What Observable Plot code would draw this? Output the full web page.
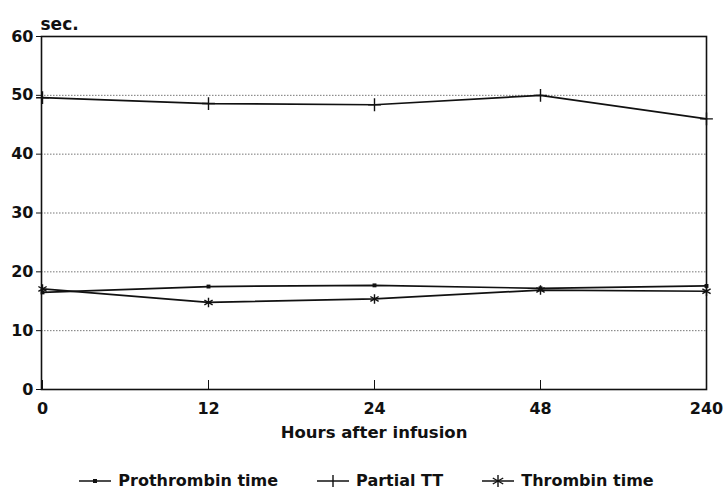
<!DOCTYPE html>
<html>
<head>
<meta charset="utf-8">
<script src="https://cdn.jsdelivr.net/npm/d3@7"></script>
<script src="https://cdn.jsdelivr.net/npm/@observablehq/plot@0.6"></script>
<style>
  body { margin: 0; background: #fff; font-family: "DejaVu Sans", sans-serif; overflow: hidden; position: relative; width: 724px; height: 490px; }
  #legend { position: absolute; left: 0; top: 472px; width: 724px; display: flex; justify-content: center; gap: 38px; font-weight: bold; font-size: 16px; line-height: 18px; color: #111; padding-left: 4px; }
  #legend span { display: inline-flex; align-items: center; gap: 6px; }
</style>
</head>
<body>
<div id="chart"></div>
<div id="legend"></div>
<script>
const hours = ["0", "12", "24", "48", "240"];
const prothrombin = [16.5, 17.5, 17.7, 17.2, 17.6];
const partialTT = [49.6, 48.6, 48.4, 50.0, 46.0];
const thrombin = [17.1, 14.8, 15.4, 16.9, 16.7];
const seriesNames = ["Prothrombin time", "Partial TT", "Thrombin time"];
const seriesSymbols = ["square", "plus", "asterisk"];
const yTicks = [0, 10, 20, 30, 40, 50, 60];
const gridTicks = [10, 20, 30, 40, 50];
const yLabel = "sec.";
const xLabel = "Hours after infusion";

const valuesBySeries = [prothrombin, partialTT, thrombin];
const rows = [];
seriesNames.forEach((name, i) => {
  hours.forEach((h, j) => rows.push({series: name, hour: h, value: valuesBySeries[i][j], symbol: seriesSymbols[i]}));
});

const font = "'DejaVu Sans', sans-serif";
const chart = Plot.plot({
  width: 724,
  height: 470,
  marginLeft: 41,
  marginRight: 18,
  marginTop: 36,
  marginBottom: 81,
  style: {fontFamily: font, fontWeight: "bold", color: "#111", background: "#fff", overflow: "visible"},
  x: {type: "point", domain: hours, padding: 0},
  y: {domain: [0, 60]},
  marks: [
    Plot.gridY(gridTicks, {stroke: "#555", strokeOpacity: 0.8, strokeDasharray: "1.5,1.5", strokeWidth: 1}),
    Plot.frame({stroke: "#111", strokeWidth: 1.6}),
    Plot.axisY(yTicks, {tickSize: 5, tickPadding: 3, fontSize: 16, fontWeight: "bold", label: null, stroke: "#111"}),
    Plot.axisX(hours, {tickSize: -9, tickPadding: 22, fontSize: 16, fontWeight: "bold", label: null, stroke: "#111"}),
    Plot.text([yLabel], {frameAnchor: "top-left", textAnchor: "start", dx: -1, dy: -19, fontSize: 17, fontWeight: "bold", fill: "#111"}),
    Plot.text([xLabel], {frameAnchor: "bottom", dy: 48, fontSize: 16.5, fontWeight: "bold", fill: "#111"}),
    Plot.line(rows, {x: "hour", y: "value", z: "series", stroke: "#111", strokeWidth: 1.7}),
    Plot.dot(rows.filter(d => d.series === "Prothrombin time"), {x: "hour", y: "value", symbol: "square", r: 2.2, fill: "#111", stroke: "none"}),
    Plot.dot(rows.filter(d => d.series === "Partial TT"), {x: "hour", y: "value", symbol: "plus", r: 4.2, stroke: "#111", strokeWidth: 1.4}),
    Plot.dot(rows.filter(d => d.series === "Thrombin time"), {x: "hour", y: "value", symbol: "asterisk", r: 4.5, stroke: "#111", strokeWidth: 1.4})
  ]
});
document.getElementById("chart").appendChild(chart);

const legend = document.getElementById("legend");
const symPaths = {
  square: '<rect x="15" y="7" width="4" height="4" fill="#111"/>',
  plus: '<line x1="17" y1="3" x2="17" y2="15" stroke="#111" stroke-width="1.4"/>',
  asterisk: '<g stroke="#111" stroke-width="1.4"><line x1="17" y1="3" x2="17" y2="15"/><line x1="11.8" y1="6" x2="22.2" y2="12"/><line x1="11.8" y1="12" x2="22.2" y2="6"/></g>'
};
seriesNames.forEach((name, i) => {
  const s = document.createElement("span");
  s.innerHTML = `<svg width="34" height="18"><line x1="1" y1="9" x2="33" y2="9" stroke="#111" stroke-width="1.5"/>${symPaths[seriesSymbols[i]]}</svg>${name}`;
  legend.appendChild(s);
});
</script>
</body>
</html>
